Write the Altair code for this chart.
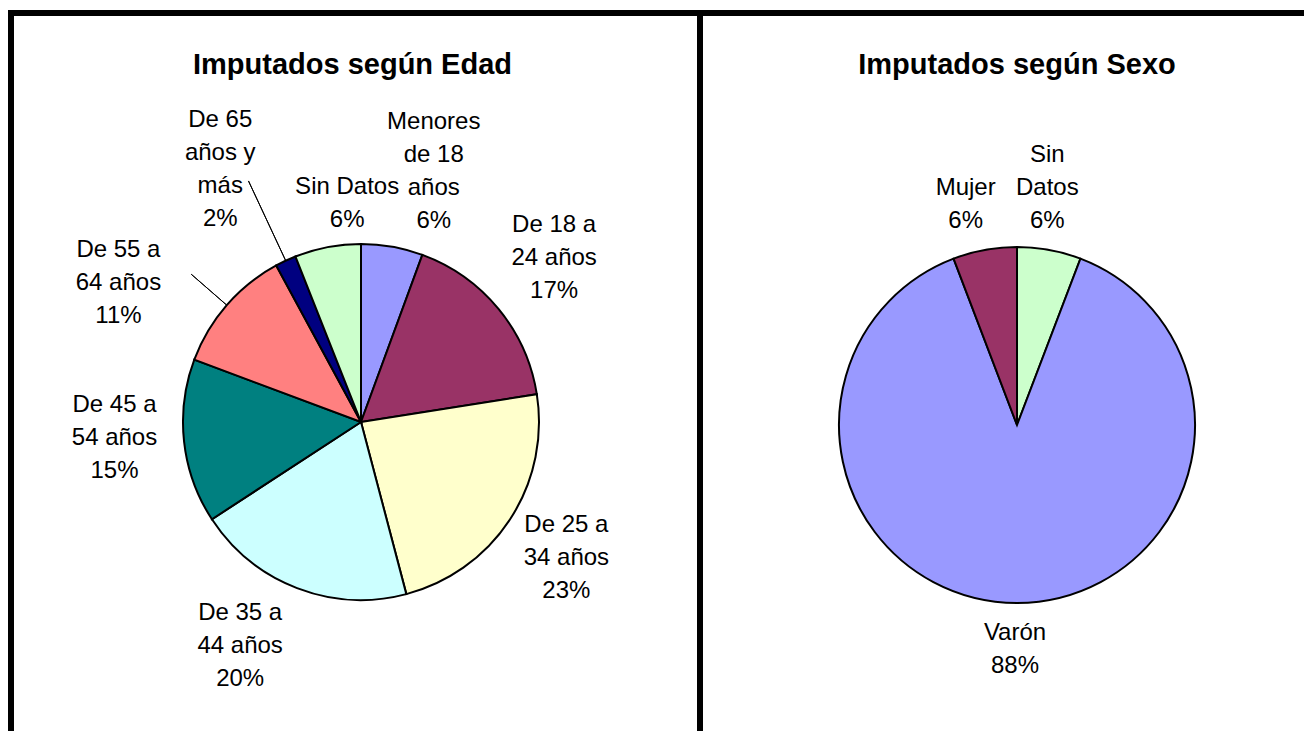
import math
import altair as alt
import pandas as pd

# ---------------- data ----------------
age_categories = ["Menores de 18 años", "De 18 a 24 años", "De 25 a 34 años",
                  "De 35 a 44 años", "De 45 a 54 años", "De 55 a 64 años",
                  "De 65 años y más", "Sin Datos"]
age_label_lines = ["Menores\nde 18\naños", "De 18 a\n24 años", "De 25 a\n34 años",
                   "De 35 a\n44 años", "De 45 a\n54 años", "De 55 a\n64 años",
                   "De 65\naños y\nmás", "Sin Datos"]
age_values = [5.6, 16.9, 23.4, 19.9, 14.9, 11.4, 1.9, 6.0]
age_colors = ["#9999FF", "#993366", "#FFFFCC", "#CCFFFF", "#008080",
              "#FF8080", "#000080", "#CCFFCC"]

sex_categories = ["Sin Datos", "Varón", "Mujer"]
sex_label_lines = ["Sin\nDatos", "Varón", "Mujer"]
sex_values = [5.8, 88.4, 5.8]
sex_colors = ["#CCFFCC", "#9999FF", "#993366"]

# ---------------- layout / style ----------------
FONT = "Liberation Sans"
FONT_SIZE = 24
LINE_H = 33
R = 178
LABEL_R = 250
THETA_SCALE = alt.Scale(domain=[0, 100], range=[0, 2 * math.pi])

# per-label nudges (dx, dy) of the label blocks' centres, in pixels
AGE_NUDGE = {
    "Menores de 18 años": (29, -4),
    "De 18 a 24 años": (0, -5),
    "De 25 a 34 años": (-4, -1),
    "De 35 a 44 años": (-31, -9),
    "De 45 a 54 años": (2, -11),
    "De 55 a 64 años": (-54, 25),
    "De 65 años y más": (-35, -26),
    "Sin Datos": (33, 27),
}
SEX_NUDGE = {
    "Sin Datos": (-15, 9),
    "Varón": (-2, -26),
    "Mujer": (-6, 25),
}
AGE_LEADERS = {"De 55 a 64 años": 225, "De 65 años y más": 266}


def make_df(cats, labels, values):
    return pd.DataFrame({"idx": list(range(len(cats))), "cat": cats,
                         "lab": labels, "value": values})


def pie(df, cats, colors, title, cx, cy, width, height, nudges, leaders):
    arcs = alt.Chart(df).mark_arc(
        outerRadius=R, stroke="black", strokeWidth=2
    ).encode(
        theta=alt.Theta("value:Q", stack=True, scale=THETA_SCALE),
        color=alt.Color("cat:N", scale=alt.Scale(domain=cats, range=colors), legend=None),
        order=alt.Order("idx:Q"),
        x=alt.value(cx), y=alt.value(cy),
    )
    base = alt.Chart(df).transform_window(
        cum="sum(value)", sort=[alt.SortField("idx")], frame=[None, 0]
    ).transform_calculate(
        mid="datum.cum - datum.value / 2",
        text="datum.lab + '\\n' + format(datum.value, '.0f') + '%'",
    )
    layers = [arcs]
    for c, r2 in leaders.items():
        layers.append(
            base.transform_filter(alt.datum.cat == c).mark_arc(
                fillOpacity=0, stroke="black", strokeWidth=1
            ).encode(
                theta=alt.Theta("mid:Q", scale=THETA_SCALE),
                theta2=alt.Theta2("mid"),
                radius=alt.value(R), radius2=alt.value(r2),
                x=alt.value(cx), y=alt.value(cy),
            )
        )
    lab_of = dict(zip(df["cat"], df["lab"]))
    for c, (dx, dy) in nudges.items():
        n_lines = lab_of[c].count("\n") + 2
        layers.append(
            base.transform_filter(alt.datum.cat == c).mark_text(
                font=FONT, fontSize=FONT_SIZE, lineBreak="\n", lineHeight=LINE_H,
                align="center", baseline="middle", dx=dx,
                dy=dy - (n_lines - 1) * LINE_H / 2, color="black"
            ).encode(
                theta=alt.Theta("mid:Q", scale=THETA_SCALE),
                radius=alt.value(LABEL_R),
                x=alt.value(cx), y=alt.value(cy),
                text="text:N",
            )
        )
    return alt.layer(*layers).properties(
        width=width, height=height,
        title=alt.TitleParams(title, font=FONT, fontSize=29, fontWeight="bold",
                              color="black", anchor="middle", offset=-90,
                              baseline="alphabetic", dx=-3),
    )


age_df = make_df(age_categories, age_label_lines, age_values)
sex_df = make_df(sex_categories, sex_label_lines, sex_values)

left = pie(age_df, age_categories, age_colors, "Imputados según Edad",
           350, 409, 689, 760, AGE_NUDGE, AGE_LEADERS)
right = pie(sex_df, sex_categories, sex_colors, "Imputados según Sexo",
            317, 412, 640, 760, SEX_NUDGE, {})

chart = alt.hconcat(left, right, spacing=0, bounds="flush").resolve_scale(
    color="independent", theta="independent"
).properties(
    padding={"left": 3, "top": 5, "right": 1293, "bottom": 718},
    autosize=alt.AutoSizeParams(type="none"),
).configure_view(
    stroke="black", strokeWidth=6
)

chart.save("out.html", embed_options={"renderer": "svg", "actions": False})
